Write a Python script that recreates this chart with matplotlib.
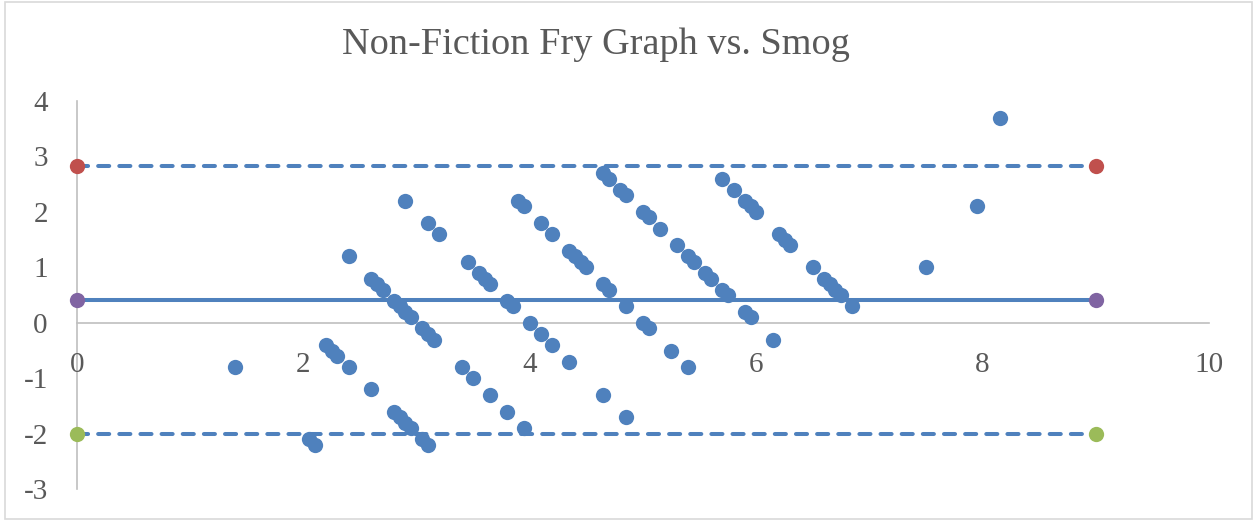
import matplotlib.pyplot as plt
from matplotlib.patches import Rectangle

# average of Fry and Smog grade (x) vs difference (y)
avg_grade = [1.4, 2.05, 2.1, 2.2, 2.25, 2.3, 2.4, 2.4, 2.6, 2.6, 2.65, 2.7,
             2.8, 2.85, 2.9, 2.95, 2.8, 2.85, 2.9, 2.95, 3.05, 3.1, 2.9,
             3.05, 3.1, 3.15, 3.1, 3.2, 3.4, 3.5, 3.65, 3.8, 3.95,
             3.45, 3.55, 3.6, 3.65, 3.8, 3.85, 3.9, 3.95,
             4.0, 4.1, 4.2, 4.35, 4.1, 4.2, 4.35, 4.4, 4.45, 4.5,
             4.65, 4.7, 4.85, 4.65, 4.85, 4.65, 4.7, 4.8, 4.85,
             5.0, 5.05, 5.15, 5.3, 5.4, 5.45, 5.55, 5.6, 5.7, 5.75,
             5.0, 5.05, 5.25, 5.4, 5.7, 5.8, 5.9, 5.95, 6.0,
             5.9, 5.95, 6.15, 6.2, 6.25, 6.3,
             6.5, 6.6, 6.65, 6.7, 6.75, 6.85, 7.5, 7.95, 8.15]
diff_grade = [-0.8, -2.1, -2.2, -0.4, -0.5, -0.6, -0.8, 1.2, -1.2, 0.8, 0.7, 0.6,
              0.4, 0.3, 0.2, 0.1, -1.6, -1.7, -1.8, -1.9, -2.1, -2.2, 2.2,
              -0.1, -0.2, -0.3, 1.8, 1.6, -0.8, -1.0, -1.3, -1.6, -1.9,
              1.1, 0.9, 0.8, 0.7, 0.4, 0.3, 2.2, 2.1,
              0.0, -0.2, -0.4, -0.7, 1.8, 1.6, 1.3, 1.2, 1.1, 1.0,
              0.7, 0.6, 0.3, -1.3, -1.7, 2.7, 2.6, 2.4, 2.3,
              2.0, 1.9, 1.7, 1.4, 1.2, 1.1, 0.9, 0.8, 0.6, 0.5,
              0.0, -0.1, -0.5, -0.8, 2.6, 2.4, 2.2, 2.1, 2.0,
              0.2, 0.1, -0.3, 1.6, 1.5, 1.4,
              1.0, 0.8, 0.7, 0.6, 0.5, 0.3, 1.0, 2.1, 3.7]

line_x = [0, 9]
mean_diff = 0.41
upper_limit = 2.83
lower_limit = -2.01

blue = '#4F81BD'
grey = '#595959'

plt.rcParams['font.family'] = ['Liberation Serif', 'DejaVu Serif']
plt.rcParams['axes.unicode_minus'] = False

fig = plt.figure(figsize=(12.54, 5.2), dpi=100)
ax = fig.add_axes([77 / 1254, 1 - 489.3 / 520, (1209 - 77) / 1254, (489.3 - 101) / 520])

# limit lines
dash = (0, (2.75, 2.5))
ax.plot(line_x, [upper_limit] * 2, color=blue, lw=2.9, ls=dash, dash_capstyle='round', zorder=2)
ax.plot(line_x, [lower_limit] * 2, color=blue, lw=2.9, ls=dash, dash_capstyle='round', zorder=2)
ax.plot(line_x, [mean_diff] * 2, color=blue, lw=2.9, zorder=2)

# endpoint markers
ax.plot(line_x, [upper_limit] * 2, 'o', color='#C0504D', ms=11, mec='none', clip_on=False, zorder=4)
ax.plot(line_x, [mean_diff] * 2, 'o', color='#8064A2', ms=11, mec='none', clip_on=False, zorder=4)
ax.plot(line_x, [lower_limit] * 2, 'o', color='#9BBB59', ms=11, mec='none', clip_on=False, zorder=4)

# data points
ax.plot(avg_grade, diff_grade, 'o', color=blue, ms=11, mec='none', clip_on=False, zorder=3)

ax.set_xlim(0, 10)
ax.set_ylim(-3, 4)
ax.set_xticks([0, 2, 4, 6, 8, 10])
ax.set_yticks(range(-3, 5))

ax.spines['left'].set_position(('data', 0))
ax.spines['bottom'].set_position(('data', 0))
ax.spines['top'].set_visible(False)
ax.spines['right'].set_visible(False)
for s in ('left', 'bottom'):
    ax.spines[s].set_color('#BFBFBF')
    ax.spines[s].set_linewidth(1.2)
    ax.spines[s].set_zorder(1)

ax.tick_params(axis='x', length=0, pad=21, labelsize=21, labelcolor=grey)
ax.tick_params(axis='y', length=0, pad=21, labelsize=21, labelcolor=grey)
ax.patch.set_alpha(0)

fig.text(596 / 1254, 1 - 45 / 520, 'Non-Fiction Fry Graph vs. Smog',
         ha='center', va='center', fontsize=27.5, color=grey)

# chart border
fig.patches.append(Rectangle((5 / 1254, 1 / 520), 1247 / 1254, 517 / 520,
                             transform=fig.transFigure, fill=False,
                             edgecolor='#D9D9D9', lw=1.2))

fig.savefig('out.png', dpi=100)
